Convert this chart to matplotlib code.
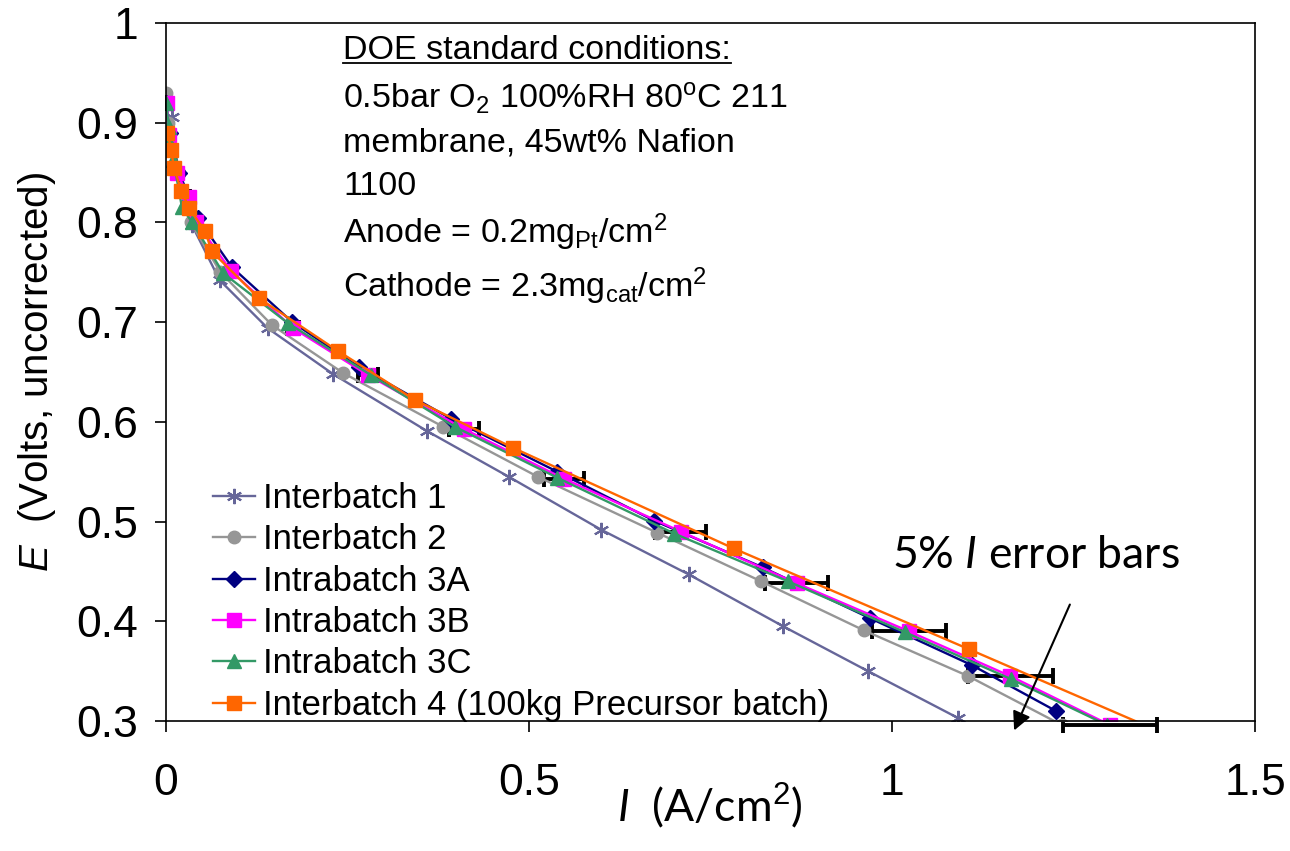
import numpy as np
import matplotlib
matplotlib.use('Agg')
import matplotlib.pyplot as plt
from matplotlib.lines import Line2D

plt.rcParams['mathtext.fontset'] = 'custom'
plt.rcParams['mathtext.rm'] = 'Liberation Sans'
plt.rcParams['mathtext.it'] = 'Lato:italic'
plt.rcParams['mathtext.sf'] = 'Liberation Sans:italic'

# polarisation data, I in A/cm2, E in volts
ib1_i = [0.008, 0.017, 0.036, 0.074, 0.140, 0.230, 0.359, 0.472, 0.599, 0.720, 0.850, 0.967, 1.091]
ib1_e = [0.906, 0.850, 0.797, 0.742, 0.694, 0.648, 0.591, 0.545, 0.492, 0.447, 0.395, 0.350, 0.303]

ib2_i = [0.000, 0.003, 0.016, 0.034, 0.075, 0.146, 0.244, 0.382, 0.512, 0.676, 0.820, 0.961, 1.105, 1.234]
ib2_e = [0.930, 0.900, 0.850, 0.800, 0.750, 0.697, 0.649, 0.595, 0.545, 0.489, 0.440, 0.391, 0.345, 0.296]

a3_i = [0.000, 0.005, 0.018, 0.044, 0.091, 0.174, 0.266, 0.393, 0.539, 0.672, 0.822, 0.970, 1.110, 1.226]
a3_e = [0.920, 0.890, 0.850, 0.804, 0.755, 0.700, 0.655, 0.603, 0.550, 0.501, 0.454, 0.403, 0.356, 0.310]

b3_i = [0.001, 0.004, 0.015, 0.031, 0.042, 0.090, 0.175, 0.278, 0.410, 0.548, 0.709, 0.869, 1.023, 1.163, 1.300]
b3_e = [0.920, 0.888, 0.850, 0.826, 0.800, 0.751, 0.694, 0.647, 0.593, 0.543, 0.490, 0.438, 0.390, 0.345, 0.296]

c3_i = [0.000, 0.004, 0.004, 0.010, 0.022, 0.036, 0.079, 0.168, 0.282, 0.398, 0.539, 0.700, 0.857, 1.018, 1.164, 1.296]
c3_e = [0.920, 0.896, 0.881, 0.863, 0.815, 0.800, 0.749, 0.699, 0.647, 0.595, 0.544, 0.488, 0.440, 0.389, 0.342, 0.296]

ib4_i = [0.002, 0.007, 0.011, 0.021, 0.032, 0.054, 0.063, 0.128, 0.237, 0.343, 0.478, 0.782, 1.106, 1.424]
ib4_e = [0.890, 0.873, 0.855, 0.832, 0.814, 0.791, 0.771, 0.724, 0.671, 0.622, 0.574, 0.473, 0.372, 0.272]

labels = ['Interbatch 1', 'Interbatch 2', 'Intrabatch 3A', 'Intrabatch 3B',
          'Intrabatch 3C', 'Interbatch 4 (100kg Precursor batch)']

fig = plt.figure(figsize=(12.9, 8.51), dpi=100)
ax = fig.add_axes([166/1290, 1-721/851, (1255-166)/1290, (721-23)/851])

# 5% current error bars on 3B (under the markers)
eb = ax.errorbar(b3_i, b3_e, xerr=0.05*np.array(b3_i), fmt='none', ecolor='k',
                 elinewidth=2.8, capsize=6, capthick=2.8, zorder=1.9)
for a in list(eb.lines[1]) + list(eb.lines[2]):
    a.set_clip_on(False)

ax.plot(ib1_i, ib1_e, color='#666699', lw=1.7, marker=(6, 2, 0), ms=11, mew=1.5, label=labels[0])
ax.plot(ib2_i, ib2_e, color='#969696', lw=1.7, marker='o', ms=9, label=labels[1])
ax.plot(a3_i, a3_e, color='#000080', lw=1.7, marker='D', ms=8, label=labels[2])
ax.plot(b3_i, b3_e, color='#FF00FF', lw=1.7, marker='s', ms=9.5, label=labels[3])
ax.plot(c3_i, c3_e, color='#339966', lw=1.7, marker='^', ms=10.5, label=labels[4])
ax.plot(ib4_i, ib4_e, color='#FF6600', lw=1.7, marker='s', ms=9.5, label=labels[5])

ax.set_xlim(0, 1.5)
ax.set_ylim(0.3, 1.0)
ax.set_xticks([0, 0.5, 1, 1.5])
ax.set_xticklabels(['0', '0.5', '1', '1.5'])
ax.set_yticks([0.3, 0.4, 0.5, 0.6, 0.7, 0.8, 0.9, 1.0])
ax.set_yticklabels(['0.3', '0.4', '0.5', '0.6', '0.7', '0.8', '0.9', '1'])
for s in ax.spines.values():
    s.set_linewidth(1.2)
    s.set_color('black')
ax.tick_params(direction='out', length=8, width=1.2, labelsize=32)
ax.tick_params(axis='y', pad=12)
ax.tick_params(axis='x', pad=22)
for t in ax.get_xticklabels() + ax.get_yticklabels():
    t.set_family('Liberation Sans')

ax.set_xlabel(r'$\mathit{I}$  (A/cm$^\mathrm{2}$)', fontsize=32, family='Lato')
ax.xaxis.set_label_coords((710-166)/1089, (721-782)/698)
ax.set_ylabel(r'$\mathsf{E}$  (Volts, uncorrected)', fontsize=29,
              family=['Liberation Sans Narrow', 'Liberation Sans'])
ax.yaxis.set_label_coords((58-166)/1089, 0.5)

leg = ax.legend(loc='upper left', bbox_to_anchor=(213/1290, 1-482/851),
                bbox_transform=fig.transFigure, frameon=False,
                handlelength=1.2, handletextpad=0.25, labelspacing=0.24,
                borderpad=0, borderaxespad=0, prop={'family': 'Liberation Sans', 'size': 25})

# conditions block
lines = ['DOE standard conditions:',
         r'0.5bar O$_\mathrm{2}$ 100%RH 80$^\mathrm{o}$C 211',
         'membrane, 45wt% Nafion',
         '1100',
         r'Anode = 0.2mg$_\mathrm{Pt}$/cm$^\mathrm{2}$',
         r'Cathode = 2.3mg$_\mathrm{cat}$/cm$^\mathrm{2}$']
base = [59, 108, 152, 195, 243, 297]
txts = []
for s, b in zip(lines, base):
    txts.append(fig.text(343/1290, 1-b/851, s, fontsize=24.5, family='Liberation Sans', va='baseline'))

fig.text(1036/1290, 1-555/851, r'5% $\mathit{I}$ error bars', fontsize=32, family='Lato',
         ha='center', va='center')
ax.annotate('', xy=(1013/1290, 1-733/851), xytext=(1071/1290, 1-602/851),
            xycoords='figure fraction', textcoords='figure fraction',
            arrowprops=dict(arrowstyle='-|>', color='k', lw=1.5, mutation_scale=28),
            annotation_clip=False)

fig.canvas.draw()
bb = txts[0].get_window_extent()
inv = fig.transFigure.inverted()
x0 = inv.transform((bb.x0, 0))[0]
x1 = inv.transform((bb.x1, 0))[0]
fig.add_artist(Line2D([x0, x1], [1-63/851, 1-63/851], transform=fig.transFigure,
                      color='k', lw=1.3))

fig.savefig('out.png', dpi=100)
